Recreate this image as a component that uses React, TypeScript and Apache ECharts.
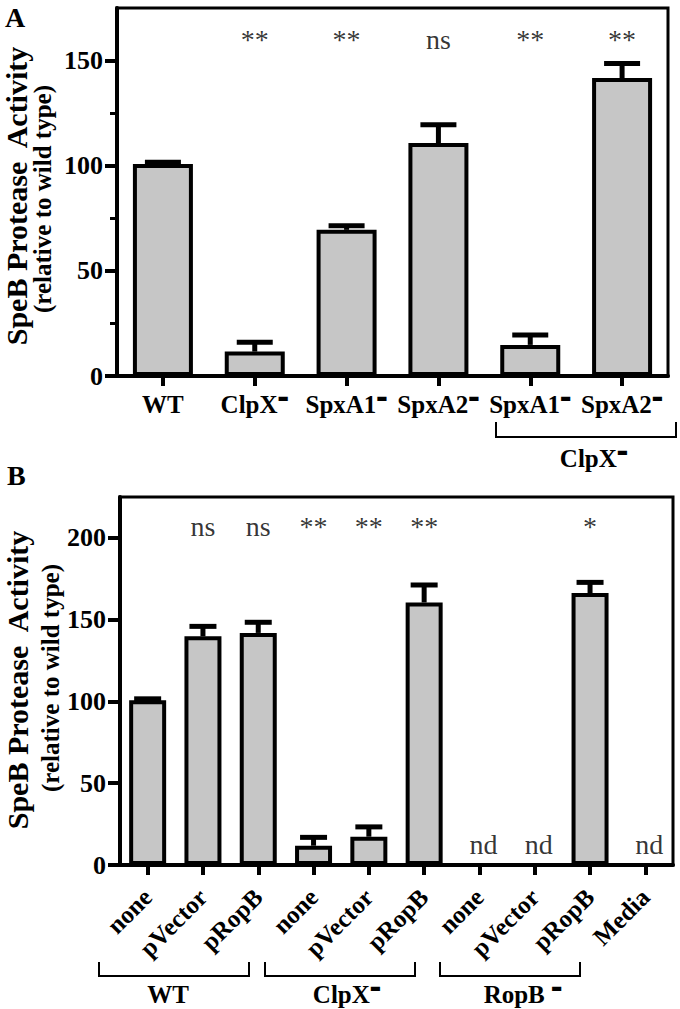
import React, { useEffect, useRef } from "react";
import * as echarts from "echarts";

// ---------- Panel A data ----------
const catsA = ["WT", "ClpX", "SpxA1", "SpxA2", "SpxA1", "SpxA2"];
const supA = [false, true, true, true, true, true];
const valuesA = [100.8, 11.6, 69.5, 110.8, 14.8, 141.7];
const errorsA = [0.8, 4.5, 2.0, 8.7, 4.7, 6.9];
const sigA = ["", "**", "**", "ns", "**", "**"];
const yTicksA = [0, 50, 100, 150];
const yMinorTicksA = [25, 75, 125];
const yMaxA = 175;

// ---------- Panel B data ----------
const catsB = ["none", "pVector", "pRopB", "none", "pVector", "pRopB", "none", "pVector", "pRopB", "Media"];
const valuesB = [100.8, 139.8, 141.9, 11.8, 17.3, 160.5, 0, 0, 166.3, 0];
const errorsB = [0.8, 6.1, 6.5, 5.1, 6.0, 10.7, 0, 0, 6.5, 0];
const sigB = ["", "ns", "ns", "**", "**", "**", "", "", "*", ""];
const ndB = ["", "", "", "", "", "", "nd", "nd", "", "nd"];
const yTicksB = [0, 50, 100, 150, 200];
const yMaxB = 225;

const SERIF = '"Liberation Serif", "Times New Roman", serif';
const SIG_Y_A = 160;
const SIG_Y_B = 207;

function errSeries(vals: number[], errs: number[], xi: number, yi: number, capW: number) {
  return {
    type: "custom",
    xAxisIndex: xi,
    yAxisIndex: yi,
    silent: true,
    z: 4,
    data: vals.map((v, i) => [i, v, v + errs[i]]),
    renderItem: (params: any, api: any) => {
      const x = api.value(0);
      const v = api.value(1);
      const t = api.value(2);
      if (t - v <= 0) return null;
      const lo = api.coord([x, v]);
      const hi = api.coord([x, t]);
      return {
        type: "group",
        children: [
          { type: "line", shape: { x1: lo[0], y1: lo[1], x2: hi[0], y2: hi[1] }, style: { stroke: "#000", lineWidth: 5 } },
          { type: "line", shape: { x1: hi[0] - capW / 2, y1: hi[1], x2: hi[0] + capW / 2, y2: hi[1] }, style: { stroke: "#000", lineWidth: 5 } },
        ],
      };
    },
  };
}

function labelSeries(texts: string[], y: number, xi: number, yi: number, offset: number[], size: number) {
  return {
    type: "scatter",
    xAxisIndex: xi,
    yAxisIndex: yi,
    silent: true,
    symbolSize: 1,
    itemStyle: { color: "rgba(0,0,0,0)" },
    z: 5,
    data: texts.map((_, i) => [i, y]),
    label: {
      show: true,
      position: "inside",
      offset,
      formatter: (p: any) => texts[p.dataIndex],
      fontFamily: SERIF,
      fontSize: size,
      color: "#000",
    },
  };
}

const supRich = {
  t: { fontSize: 25, fontWeight: "bold", fontFamily: SERIF, color: "#000", lineHeight: 25 },
  s: { fontSize: 12, fontFamily: "DejaVu Sans", color: "#000", verticalAlign: "top", lineHeight: 13 },
};

export default function App() {
  const ref = useRef<HTMLDivElement>(null);
  useEffect(() => {
    document.body.style.margin = "0";
    const chart = echarts.init(ref.current!, null, { renderer: "svg" });
    const axisLine = { show: true, lineStyle: { color: "#000", width: 4 } };
    const yLabel = { color: "#000", fontFamily: SERIF, fontWeight: "bold", fontSize: 26, margin: 14 };
    const option: any = {
      animation: false,
      backgroundColor: "#fff",
      textStyle: { fontFamily: SERIF },
      grid: [
        { left: 117, top: 8, width: 551, height: 368, show: true, borderColor: "#000", borderWidth: 3, backgroundColor: "transparent" },
        { left: 120, top: 497, width: 553, height: 368, show: true, borderColor: "#000", borderWidth: 3, backgroundColor: "transparent" },
      ],
      xAxis: [
        {
          type: "category", gridIndex: 0, data: catsA,
          axisLine, axisTick: { show: true, alignWithLabel: true, length: 10, lineStyle: { color: "#000", width: 4 } },
          axisLabel: {
            interval: 0, margin: 16, color: "#000",
            formatter: (v: string, i: number) => (supA[i] ? `{t|${v}}{s|▬}` : `{t|${v}}`),
            rich: supRich,
          },
        },
        {
          type: "category", gridIndex: 1, data: catsB,
          axisLine, axisTick: { show: true, alignWithLabel: true, length: 10, lineStyle: { color: "#000", width: 4 } },
          axisLabel: { interval: 0, rotate: 45, margin: 28, color: "#000", fontFamily: SERIF, fontWeight: "bold", fontSize: 25 },
        },
      ],
      yAxis: [
        {
          type: "value", gridIndex: 0, min: 0, max: yMaxA, splitLine: { show: false },
          axisLine, axisTick: { show: true, length: 12, customValues: yTicksA, lineStyle: { color: "#000", width: 4 } },
          axisLabel: { ...yLabel, customValues: yTicksA },
        },
        {
          type: "value", gridIndex: 0, min: 0, max: yMaxA, position: "left", splitLine: { show: false },
          axisLine: { show: false }, axisLabel: { show: false },
          axisTick: { show: true, length: 7, customValues: yMinorTicksA, lineStyle: { color: "#000", width: 3 } },
        },
        {
          type: "value", gridIndex: 1, min: 0, max: yMaxB, splitLine: { show: false },
          axisLine, axisTick: { show: true, length: 12, customValues: yTicksB, lineStyle: { color: "#000", width: 4 } },
          axisLabel: { ...yLabel, customValues: yTicksB },
        },
      ],
      series: [
        {
          type: "bar", xAxisIndex: 0, yAxisIndex: 0, data: valuesA, barWidth: 60,
          itemStyle: { color: "#c6c6c6", borderColor: "#000", borderWidth: 4 }, z: 3,
        },
        errSeries(valuesA, errorsA, 0, 0, 36),
        labelSeries(sigA, SIG_Y_A, 0, 0, [0, 0], 28),
        {
          type: "bar", xAxisIndex: 1, yAxisIndex: 2, data: valuesB, barWidth: 37,
          itemStyle: { color: "#c6c6c6", borderColor: "#000", borderWidth: 4 }, z: 3,
        },
        errSeries(valuesB, errorsB, 1, 2, 27),
        labelSeries(sigB, SIG_Y_B, 1, 2, [0, 0], 28),
        labelSeries(ndB, 0, 1, 2, [4, -21], 28),
      ],
      graphic: [
        { type: "text", x: 5, y: 3, style: { text: "A", font: `bold 28px ${SERIF}`, fill: "#000" } },
        { type: "text", x: 7, y: 461, style: { text: "B", font: `bold 28px ${SERIF}`, fill: "#000" } },
        { type: "text", x: 16, y: 196, rotation: Math.PI / 2, style: { text: "SpeB Protease  Activity", font: `bold 30px ${SERIF}`, fill: "#000", align: "center", verticalAlign: "middle" } },
        { type: "text", x: 42, y: 199, rotation: Math.PI / 2, style: { text: "(relative to wild type)", font: `bold 25px ${SERIF}`, fill: "#000", align: "center", verticalAlign: "middle" } },
        { type: "text", x: 17, y: 680, rotation: Math.PI / 2, style: { text: "SpeB Protease  Activity", font: `bold 30px ${SERIF}`, fill: "#000", align: "center", verticalAlign: "middle" } },
        { type: "text", x: 50, y: 678, rotation: Math.PI / 2, style: { text: "(relative to wild type)", font: `bold 25px ${SERIF}`, fill: "#000", align: "center", verticalAlign: "middle" } },
        // Panel A group bracket
        { type: "polyline", shape: { points: [[496, 422], [496, 437], [676, 437], [676, 422]] }, style: { stroke: "#000", lineWidth: 2, fill: "none" } },
        { type: "text", x: 594, y: 458, style: { text: "{t|ClpX}{s|▬}", rich: supRich, align: "center", verticalAlign: "middle" } },
        // Panel B group brackets
        { type: "polyline", shape: { points: [[99, 962], [99, 976], [249, 976], [249, 962]] }, style: { stroke: "#000", lineWidth: 2, fill: "none" } },
        { type: "polyline", shape: { points: [[265, 962], [265, 976], [415, 976], [415, 962]] }, style: { stroke: "#000", lineWidth: 2, fill: "none" } },
        { type: "polyline", shape: { points: [[440, 962], [440, 976], [580, 976], [580, 962]] }, style: { stroke: "#000", lineWidth: 2, fill: "none" } },
        { type: "text", x: 168, y: 994, style: { text: "{t|WT}", rich: supRich, align: "center", verticalAlign: "middle" } },
        { type: "text", x: 347, y: 994, style: { text: "{t|ClpX}{s|▬}", rich: supRich, align: "center", verticalAlign: "middle" } },
        { type: "text", x: 523, y: 994, style: { text: "{t|RopB }{s|▬}", rich: supRich, align: "center", verticalAlign: "middle" } },
      ],
    };
    chart.setOption(option);
    return () => chart.dispose();
  }, []);
  return <div ref={ref} style={{ width: 680, height: 1009 }} />;
}
